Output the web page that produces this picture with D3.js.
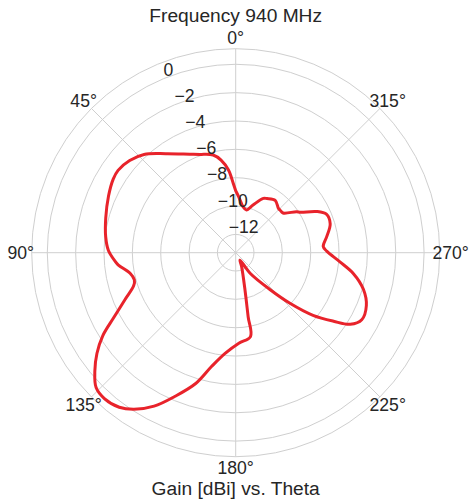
<!DOCTYPE html>
<html>
<head>
<meta charset="utf-8">
<script src="https://cdn.jsdelivr.net/npm/d3@7"></script>
<style>
  html, body { margin: 0; padding: 0; background: #ffffff; }
  svg { display: block; }
  text { font-family: "Liberation Sans", Arial, sans-serif; fill: #262626; }
</style>
</head>
<body>
<script>
// ---- data ----
const titleText = "Frequency 940 MHz";
const xLabelText = "Gain [dBi] vs. Theta";
const thetaTicks = [0, 45, 90, 135, 180, 225, 270, 315];
const thetaTickLabels = ["0°", "45°", "90°", "135°", "180°", "225°", "270°", "315°"];
const radialTicks = [-12, -10, -8, -6, -4, -2, 0];
const radialTickLabels = ["\u221212", "\u221210", "\u22128", "\u22126", "\u22124", "\u22122", "0"];
const thetaDeg = [0, 2, 5, 9, 13, 20, 25, 35, 43, 49, 55, 59, 66, 75, 83, 89, 94, 96, 101, 105, 108,
  113, 118, 122, 126, 130, 134, 138, 143, 147, 152, 157, 163, 168, 174, 182, 190, 191, 194, 203, 210,
  215, 223, 227, 231, 235, 238, 242, 248, 254, 260, 265, 271, 274, 280, 287, 293, 297, 302, 304, 310,
  314, 316, 323, 330, 333, 340, 346, 351, 357, 360];
const gainDbi = [-8.92, -8.40, -7.44, -6.68, -6.22, -5.91, -5.62, -4.76, -3.81, -3.38, -3.16, -3.21, -3.47, -3.80, -4.05, -4.31, -4.76, -4.97, -5.70, -5.89, -5.72,
  -4.80, -3.55, -2.23, -1.19, -0.32, 0.40, 0.55, 0.36, -0.12, -1.03, -2.27, -3.64, -5.08, -6.15, -6.90, -7.28, -8.69, -10.58, -12.22, -12.69,
  -11.52, -9.72, -8.06, -6.27, -4.86, -3.76, -3.22, -3.35, -3.92, -4.87, -5.91, -6.87, -7.10, -6.77, -6.32, -6.34, -6.89, -7.91, -8.11, -8.93,
  -8.95, -8.95, -8.66, -8.88, -8.99, -9.71, -10.18, -10.00, -9.33, -8.92];

// ---- layout ----
const W = 470, H = 503;
const cx = 235.7, cy = 252.7, R = 204;
const gridColor = "#cfcfcf";

const svg = d3.select("body").append("svg").attr("width", W).attr("height", H);

const r = d3.scaleLinear().domain([-13.29, 1.10]).range([0, R]);
const toRad = d => d * Math.PI / 180;
// counter-clockwise angle from top -> screen offsets
const px = (deg, rad) => -rad * Math.sin(toRad(deg));
const py = (deg, rad) => -rad * Math.cos(toRad(deg));

const g = svg.append("g").attr("transform", `translate(${cx},${cy})`);

// grid circles
g.selectAll("circle.grid").data(radialTicks).join("circle")
  .attr("class", "grid").attr("r", d => r(d))
  .attr("fill", "none").attr("stroke", gridColor).attr("stroke-width", 1);

// spokes
g.selectAll("line.spoke").data(thetaTicks).join("line")
  .attr("class", "spoke")
  .attr("x1", 0).attr("y1", 0)
  .attr("x2", d => px(d, R)).attr("y2", d => py(d, R))
  .attr("stroke", gridColor).attr("stroke-width", 1);

// outer boundary
g.append("circle").attr("r", R).attr("fill", "none")
  .attr("stroke", gridColor).attr("stroke-width", 1);

// pattern line
const pts = thetaDeg.map((t, i) => ({ t, v: gainDbi[i] }));
const line = d3.lineRadial()
  .angle(d => -toRad(d.t))
  .radius(d => r(d.v))
  .curve(d3.curveCatmullRom.alpha(0.5));
g.append("path").datum(pts).attr("d", line)
  .attr("fill", "none").attr("stroke", "#e8232b")
  .attr("stroke-width", 3).attr("stroke-linejoin", "round").attr("stroke-linecap", "round");

// radial tick labels at 22.5°
const rlAng = 22.5;
g.selectAll("text.rlab").data(radialTicks).join("text")
  .attr("class", "rlab")
  .attr("x", d => px(rlAng, r(d)))
  .attr("y", d => py(rlAng, r(d)) - 3)
  .attr("text-anchor", "start")
  .attr("font-size", 17.6)
  .text((d, i) => radialTickLabels[i]);

// theta tick labels
const tR = 215;
g.selectAll("text.tlab").data(thetaTicks).join("text")
  .attr("class", "tlab")
  .attr("x", d => px(d, tR))
  .attr("y", d => py(d, tR) + 6.3)
  .attr("text-anchor", "middle")
  .attr("font-size", 17.6)
  .text((d, i) => thetaTickLabels[i]);

// title and axis label
svg.append("text").attr("x", cx).attr("y", 22)
  .attr("text-anchor", "middle").attr("font-size", 19.2).text(titleText);
svg.append("text").attr("x", cx).attr("y", 495)
  .attr("text-anchor", "middle").attr("font-size", 19.2).text(xLabelText);
</script>
</body>
</html>
